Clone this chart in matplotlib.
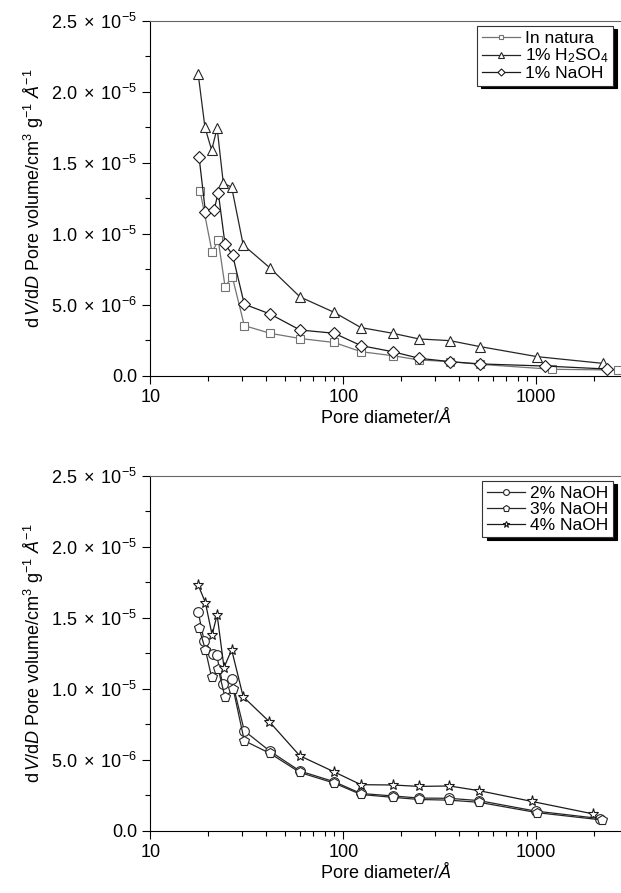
import numpy as np
import matplotlib
matplotlib.use("Agg")
import matplotlib.pyplot as plt
from matplotlib.ticker import FuncFormatter, MultipleLocator, LogLocator, NullFormatter

plt.rcParams['font.family'] = ['Liberation Sans', 'DejaVu Sans']
plt.rcParams['mathtext.fontset'] = 'custom'
plt.rcParams['mathtext.rm'] = 'Liberation Sans'
plt.rcParams['mathtext.it'] = 'Liberation Sans:italic'
plt.rcParams['mathtext.bf'] = 'Liberation Sans:bold'

# 上图数据 (y 单位 1e-6)
x_natura = [18.1, 20.9, 22.5, 24.4, 26.6, 30.7, 41.7, 59.7, 89.8, 123.5, 180.3, 246.7, 357, 511, 1210, 2659]
y_natura = [13.05, 8.72, 9.54, 6.28, 6.98, 3.53, 2.99, 2.62, 2.34, 1.69, 1.41, 1.11, 0.99, 0.80, 0.45, 0.40]

x_h2so4 = [17.7, 19.2, 20.8, 22.2, 23.9, 26.4, 30.3, 41.5, 59.7, 89.8, 123.5, 180.3, 246.7, 357, 511, 1012, 2208]
y_h2so4 = [21.28, 17.5, 15.9, 17.45, 13.57, 13.29, 9.22, 7.62, 5.55, 4.46, 3.39, 2.99, 2.59, 2.47, 2.05, 1.34, 0.87]

x_naoh1 = [17.9, 19.3, 21.4, 22.5, 24.4, 26.7, 30.7, 41.7, 59.7, 89.8, 123.5, 180.3, 246.7, 357, 511, 1109, 2320]
y_naoh1 = [15.4, 11.57, 11.68, 12.9, 9.27, 8.51, 5.04, 4.35, 3.22, 2.99, 2.12, 1.69, 1.23, 0.99, 0.83, 0.68, 0.47]

# 下图数据
x_naoh2 = [17.7, 19.0, 21.2, 22.1, 23.7, 26.4, 30.7, 41.7, 59.7, 89.8, 123.5, 180.3, 246.7, 354, 505, 992, 2150]
y_naoh2 = [15.44, 13.38, 12.46, 12.37, 10.33, 10.68, 7.04, 5.6, 4.2, 3.45, 2.62, 2.45, 2.3, 2.28, 2.12, 1.38, 0.85]

x_naoh3 = [17.9, 19.3, 20.8, 22.5, 24.4, 26.9, 30.7, 41.7, 59.7, 89.8, 123.5, 180.3, 246.7, 354, 505, 1010, 2200]
y_naoh3 = [14.27, 12.75, 10.8, 11.39, 9.39, 9.98, 6.34, 5.45, 4.1, 3.35, 2.55, 2.35, 2.2, 2.15, 2.0, 1.27, 0.75]

x_naoh4 = [17.7, 19.3, 20.9, 22.2, 24.1, 26.4, 30.3, 41.4, 59.5, 89.5, 123.5, 180.3, 246.7, 355, 505, 950, 1972]
y_naoh4 = [17.32, 16.08, 13.80, 15.21, 11.5, 12.75, 9.44, 7.68, 5.28, 4.15, 3.24, 3.22, 3.12, 3.15, 2.82, 2.06, 1.18]

top_series = [
    (x_natura, y_natura, 's', 6, '0.45', 'In natura'),
    (x_h2so4, y_h2so4, '^', 7.5, '0.15', r'1% H$_2$SO$_4$'),
    (x_naoh1, y_naoh1, 'D', 6, '0.1', '1% NaOH'),
]
bottom_series = [
    (x_naoh2, y_naoh2, 'o', 7, '0.15', '2% NaOH'),
    (x_naoh3, y_naoh3, 'p', 7.5, '0.15', '3% NaOH'),
    (x_naoh4, y_naoh4, '*', 8, '0.1', '4% NaOH'),
]


def y_fmt(v, pos):
    if abs(v) < 1e-12:
        return '0.0'
    exp = int(np.floor(np.log10(abs(v))))
    mant = v / 10 ** exp
    return r'$%.1f\;\times\;10^{%d}$' % (mant, exp)


fig = plt.figure(figsize=(6.21, 8.93), dpi=100)
ax_top = fig.add_axes([0.242, 0.5793, 0.758, 0.3972])
ax_bot = fig.add_axes([0.242, 0.0698, 0.758, 0.3972])

for ax, series in [(ax_top, top_series), (ax_bot, bottom_series)]:
    for xs, ys, mk, ms, col, lab in series:
        ax.plot(xs, np.array(ys) * 1e-6, marker=mk, markersize=ms, color=col,
                markerfacecolor='white', markeredgecolor=col, markeredgewidth=0.8,
                linewidth=0.9, label=lab, clip_on=False)
    ax.set_xscale('log')
    ax.set_xlim(10, 2748)
    ax.set_ylim(0, 2.5e-5)
    ax.yaxis.set_major_locator(MultipleLocator(5e-6))
    ax.yaxis.set_minor_locator(MultipleLocator(2.5e-6))
    ax.yaxis.set_major_formatter(FuncFormatter(y_fmt))
    ax.xaxis.set_major_locator(LogLocator(base=10))
    ax.xaxis.set_minor_locator(LogLocator(base=10, subs=np.arange(2, 10)))
    ax.xaxis.set_minor_formatter(NullFormatter())
    ax.xaxis.set_major_formatter(FuncFormatter(lambda v, p: '%d' % v))
    ax.tick_params(which='major', direction='out', length=6, width=0.8, labelsize=13)
    ax.tick_params(which='minor', direction='out', length=3.5, width=0.8)
    ax.spines['right'].set_visible(False)
    ax.spines['top'].set_color('0.4')
    ax.set_xlabel(r'Pore diameter/$\mathit{Å}$', fontsize=13, labelpad=1)
    ax.set_ylabel(r'd$\,\mathit{V}$/d$\mathit{D}$ Pore volume/cm$^3$ g$^{-1}$ $\mathit{Å}^{-1}$',
                  fontsize=13, labelpad=4)
    leg = ax.legend(loc='upper right', bbox_to_anchor=(0.99, 0.995), fontsize=12.5,
                    frameon=True, fancybox=False, edgecolor='0.2', markerscale=0.6,
                    handlelength=2.2, handletextpad=0.3, borderpad=0.25, labelspacing=0.05,
                    borderaxespad=0.2,
                    shadow={'ox': 3, 'oy': -2, 'shade': 1.0, 'alpha': 1.0})
    leg.get_frame().set_linewidth(0.8)

fig.savefig('out.png', dpi=100)
